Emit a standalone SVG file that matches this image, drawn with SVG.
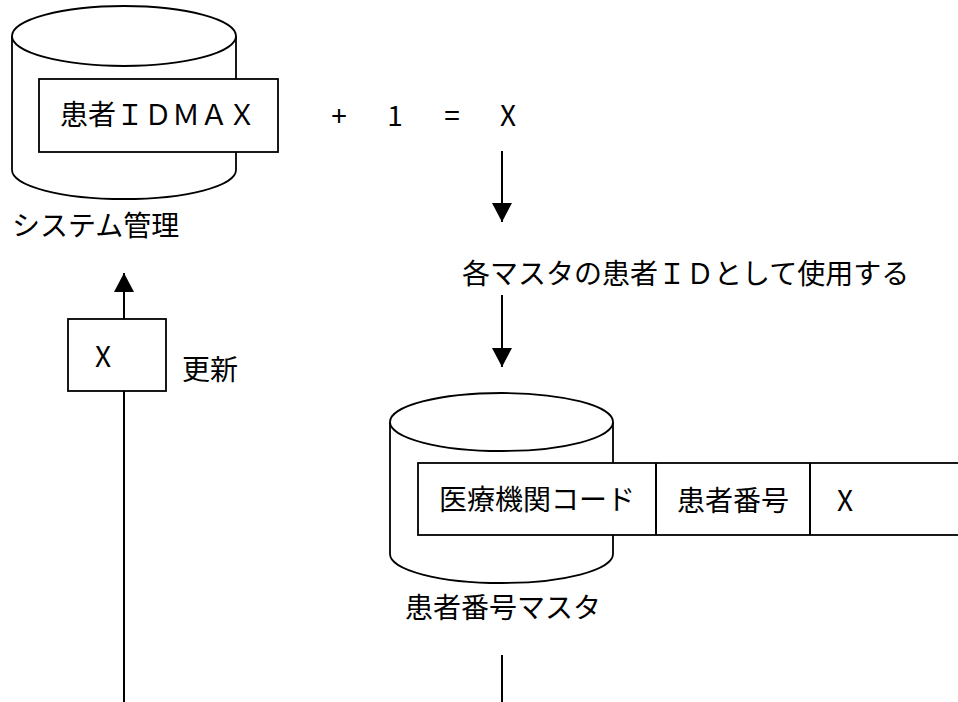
<svg xmlns="http://www.w3.org/2000/svg" width="958" height="702" viewBox="0 0 958 702">
<defs>
<style>
.t{font-family:"Noto Sans CJK JP","Noto Sans",sans-serif;font-size:28px;fill:#000;dominant-baseline:central}
.s{fill:#fff;stroke:#000;stroke-width:1.8}
.l{stroke:#000;stroke-width:2;fill:none}
</style>
<marker id="ah" markerWidth="20" markerHeight="20" refX="19" refY="10" orient="auto" markerUnits="userSpaceOnUse" viewBox="0 0 20 20">
<path d="M0,0 L19,10 L0,20 Z" fill="#000"/>
</marker>
</defs>
<rect width="958" height="702" fill="#fff"/>
<g id="system">
<path class="s" d="M12,36 L12,170 A112,29 0 0 0 236,170 L236,36"/>
<ellipse class="s" cx="124" cy="36" rx="112" ry="30"/>
<rect class="s" x="39" y="79" width="239" height="73"/>
<text class="t" x="60" y="113">患者ＩＤＭＡＸ</text>
<text class="t" x="12" y="224">システム管理</text>
</g>
<g id="formula">
<text class="t" x="339 367 395 423 452 480 508" y="114" text-anchor="middle">+ 1 = X</text>
</g>
<g id="usage">
<text class="t" x="462" y="272">各マスタの患者ＩＤとして使用する</text>
</g>
<g id="update">
<rect class="s" x="68" y="319" width="98" height="72"/>
<text class="t" x="103" y="355" text-anchor="middle">X</text>
<text class="t" x="182" y="368">更新</text>
</g>
<g id="patient-master">
<path class="s" d="M390,422 L390,554 A111.5,29 0 0 0 613,554 L613,422"/>
<ellipse class="s" cx="501.5" cy="422" rx="111.5" ry="29"/>
<rect class="s" x="418" y="463" width="560" height="72"/>
<line class="l" x1="656" y1="463" x2="656" y2="535"/>
<line class="l" x1="810" y1="463" x2="810" y2="535"/>
<text class="t" x="439" y="498">医療機関コード</text>
<text class="t" x="677" y="499">患者番号</text>
<text class="t" x="845" y="499" text-anchor="middle">X</text>
<text class="t" x="405" y="606">患者番号マスタ</text>
</g>
<g id="connectors">
<line class="l" x1="502" y1="151" x2="502" y2="222" marker-end="url(#ah)"/>
<line class="l" x1="502" y1="295" x2="502" y2="367" marker-end="url(#ah)"/>
<line class="l" x1="124" y1="319" x2="124" y2="273" marker-end="url(#ah)"/>
<line class="l" x1="124" y1="391" x2="124" y2="702"/>
<line class="l" x1="502" y1="655" x2="502" y2="702"/>
</g>
</svg>
